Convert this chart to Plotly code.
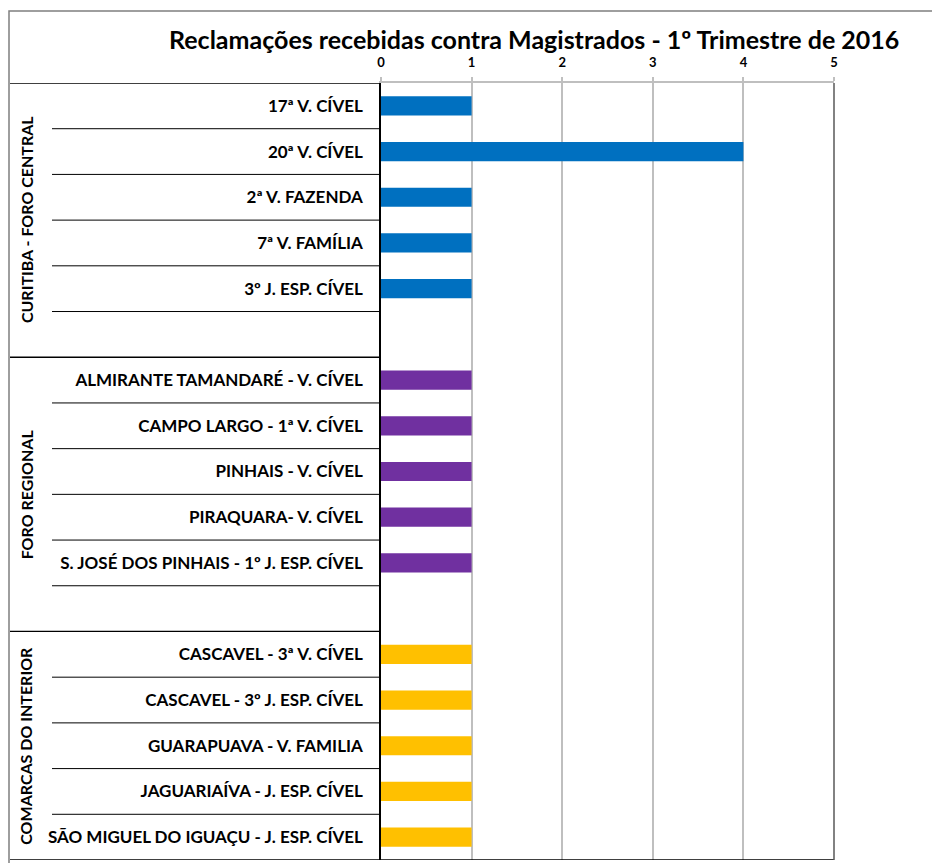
import plotly.graph_objects as go

# ---------------- data ----------------
title_text = "Reclamações recebidas contra Magistrados - 1º Trimestre de 2016"
groups = ["CURITIBA - FORO CENTRAL", "FORO REGIONAL", "COMARCAS DO INTERIOR"]

curitiba_cats = ["17ª V. CÍVEL", "20ª V. CÍVEL", "2ª V. FAZENDA", "7ª V. FAMÍLIA", "3º J. ESP. CÍVEL"]
curitiba_vals = [1, 4, 1, 1, 1]

regional_cats = ["ALMIRANTE TAMANDARÉ - V. CÍVEL", "CAMPO LARGO - 1ª V. CÍVEL", "PINHAIS - V. CÍVEL",
                 "PIRAQUARA- V. CÍVEL", "S. JOSÉ DOS PINHAIS - 1º J. ESP. CÍVEL"]
regional_vals = [1, 1, 1, 1, 1]

interior_cats = ["CASCAVEL - 3ª V. CÍVEL", "CASCAVEL - 3º J. ESP. CÍVEL", "GUARAPUAVA - V. FAMILIA",
                 "JAGUARIAÍVA - J. ESP. CÍVEL", "SÃO MIGUEL DO IGUAÇU - J. ESP. CÍVEL"]
interior_vals = [1, 1, 1, 1, 1]

x_ticks = [0, 1, 2, 3, 4, 5]
colors = ["#0070C0", "#7030A0", "#FFC000"]

# ---------------- layout constants (reference pixels) ----------------
OFF = 8  # page body margin
W, H = 940 - OFF, 863 - OFF
PL, PR, PT, PB = 381, 834, 83, 860
FONT = "Lato"

def px_x(p):
    return (p - PL) / (PR - PL)

def px_y(p):
    return (PB - p) / (PB - PT)

group_cats = [curitiba_cats, regional_cats, interior_cats]
group_vals = [curitiba_vals, regional_vals, interior_vals]
spacers = [" ", "  ", None]

order = []
group_spans = []
for cats, sp in zip(group_cats, spacers):
    start = len(order)
    order += cats
    if sp is not None:
        order.append(sp)
    group_spans.append((start, len(order) - 1))
n = len(order)

fig = go.Figure()
for cats, vals, col in zip(group_cats, group_vals, colors):
    fig.add_trace(go.Bar(x=vals, y=cats, orientation="h", marker=dict(color=col, line=dict(width=0)),
                         width=0.42, showlegend=False, hoverinfo="x+y"))

shapes = []
# outer border
shapes.append(dict(type="rect", xref="paper", yref="paper", x0=px_x(9), x1=px_x(1000),
                   y0=px_y(11), y1=px_y(1000), line=dict(color="#7f7f7f", width=1.5), layer="below"))
# row separators
group_bounds = set()
for s, e in group_spans:
    group_bounds.add(s - 0.5)
    group_bounds.add(e + 0.5)
for i in range(n - 1):
    b = i + 0.5
    if b in group_bounds:
        continue
    shapes.append(dict(type="line", xref="paper", yref="y", x0=px_x(52), x1=0, y0=b, y1=b,
                       line=dict(color="black", width=1)))
for b in sorted(group_bounds):
    x1 = 1 if b == n - 0.5 else 0
    shapes.append(dict(type="line", xref="paper", yref="y", x0=px_x(10), x1=x1, y0=b, y1=b,
                       line=dict(color="black", width=1.3)))
# right border of plot
shapes.append(dict(type="line", xref="paper", yref="paper", x0=1, x1=1, y0=0, y1=1,
                   line=dict(color="#595959", width=1.5)))

annotations = [dict(text=title_text, xref="paper", yref="paper", x=px_x(534), y=px_y(39),
                    xanchor="center", yanchor="middle", showarrow=False,
                    font=dict(family=FONT, size=25, color="black", weight="bold"))]
for g, (s, e) in zip(groups, group_spans):
    annotations.append(dict(text=g, xref="paper", yref="y", x=px_x(26), y=(s - 0.5 + e + 0.5) / 2,
                            xanchor="center", yanchor="middle", textangle=-90, showarrow=False,
                            font=dict(family=FONT, size=16, color="black", weight="bold")))

fig.update_layout(
    width=W, height=H, autosize=False,
    margin=dict(l=PL - OFF, r=940 - PR, t=PT - OFF, b=863 - PB, pad=0),
    paper_bgcolor="white", plot_bgcolor="white",
    bargap=0.5,
    shapes=shapes, annotations=annotations,
    xaxis=dict(side="top", range=[0, 5], tickvals=x_ticks, ticktext=[str(t) for t in x_ticks],
               showgrid=True, gridcolor="#bfbfbf", gridwidth=1.5, zeroline=False,
               showline=True, linecolor="#bfbfbf", linewidth=1.5,
               ticks="outside", ticklen=4, tickcolor="#bfbfbf", tickwidth=1.5,
               ticklabelstandoff=5,
               tickfont=dict(family=FONT, size=13, color="black", weight="bold"), fixedrange=True),
    yaxis=dict(type="category", categoryorder="array", categoryarray=order, range=[n - 0.5, -0.5],
               tickvals=order, ticktext=order,
               showgrid=False, zeroline=False, showline=True, linecolor="black", linewidth=1.5,
               ticks="", ticklabelstandoff=13,
               tickfont=dict(family=FONT, size=17, color="black", weight="bold"), fixedrange=True),
    font=dict(family=FONT),
)

fig.write_html("out.html")
